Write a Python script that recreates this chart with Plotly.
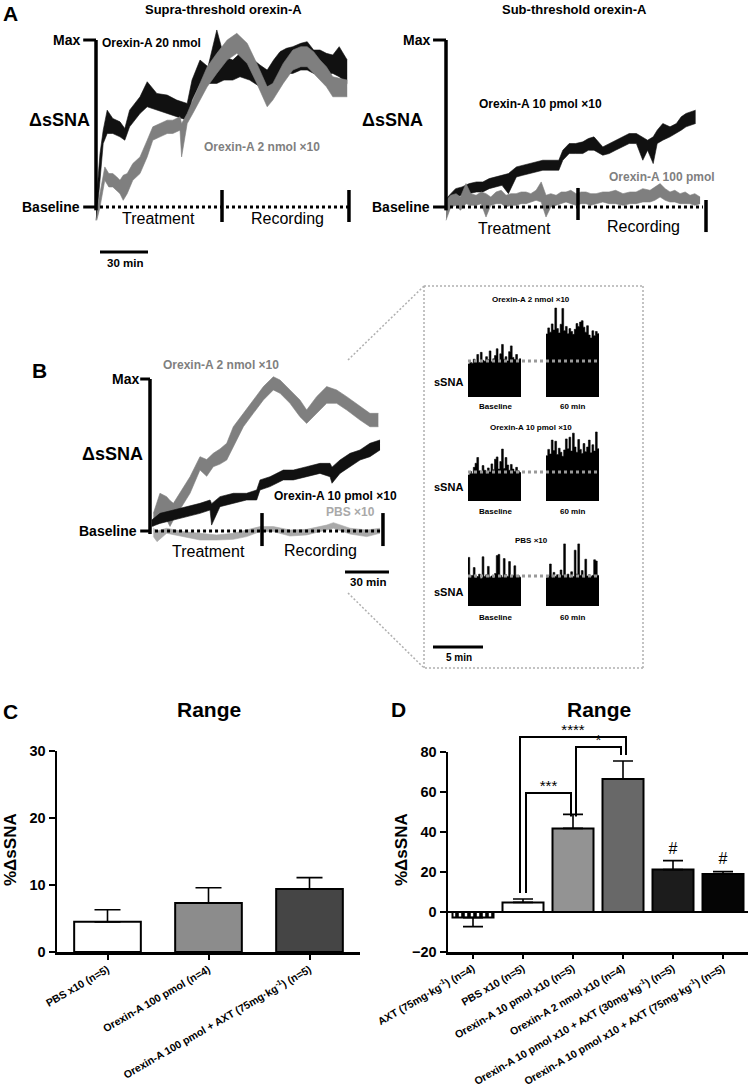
import plotly.graph_objects as go

W, H = 752, 1088
FONT = "Liberation Sans, Arial, Helvetica, sans-serif"
BLACK = "#111111"
GRAY = "#7f7f7f"
LGRAY = "#a9a9a9"

# ======================= DATA =======================
# Panel A left - supra-threshold (time, min; dSSNA as % of Max, low/high envelope of noisy trace)
a1_t_20nmol = [0, 1, 2.5, 4.5, 7, 10.5, 15, 18, 21, 27.5, 32, 38, 44.5, 50.5, 57, 60, 65, 70, 75.5, 80,
               85.5, 90, 96, 102.5, 107, 111, 115, 119, 123, 128, 132, 136, 140, 144, 148, 152, 157]
a1_hi_20nmol = [2, 14, 32, 46, 58, 53, 51, 47, 58, 66, 75, 68, 67, 64, 62, 76, 88, 84, 106, 90,
                88, 92, 90, 85, 82, 88, 93, 95, 96, 98, 99, 94, 94, 92, 91, 96, 88]
a1_lo_20nmol = [-8, 0, 16, 38, 44, 44, 42, 40, 48, 56, 60, 58, 56, 54, 52, 64, 74, 74, 74, 76,
                76, 78, 76, 72, 72, 74, 78, 80, 80, 82, 82, 80, 82, 80, 80, 78, 74]
a1_t_2nmol = [0.5, 2.5, 5.5, 8, 10.5, 13, 15, 17, 19.5, 23, 27.5, 32, 35.5, 40, 44.5, 48, 52.5, 53.5, 57, 60.5,
              65, 69.5, 75.5, 82, 88, 94.5, 100.5, 104, 107, 110.5, 117, 123, 128, 132, 136, 140, 144, 148, 152, 157]
a1_hi_2nmol = [-2, 8, 24, 20, 20, 18, 16, 19, 20, 26, 30, 40, 48, 50, 52, 52, 54, 50, 56, 64,
               74, 84, 92, 100, 104, 98, 86, 78, 72, 74, 86, 94, 96, 96, 93, 88, 84, 78, 77, 76]
a1_lo_2nmol = [-8, 0, 16, 12, 12, 10, 8, 4, 8, 16, 20, 30, 40, 42, 44, 44, 46, 30, 50, 56,
               64, 72, 80, 88, 92, 86, 74, 66, 60, 64, 74, 82, 84, 84, 80, 76, 72, 66, 66, 66]

# Panel A right - sub-threshold
a2_t_10pmol = [0, 1.2, 3, 6, 10, 14.5, 19, 23, 27, 31, 35, 39, 44, 48, 52, 56, 60.5, 65, 70.5, 73,
               77, 81, 85.5, 89, 92.5, 98, 102, 106, 110, 114.5, 119, 123, 126, 129.5, 132, 135.5, 140, 144, 147, 150,
               153, 156]
a2_hi_10pmol = [4, 6, 8, 11, 12, 14, 15, 15, 17, 18, 19, 20, 24, 25, 26, 27, 28, 28, 28, 34,
                38, 38, 39, 41, 42, 36, 38, 40, 42, 44, 44, 42, 40, 42, 46, 50, 48, 50, 54, 56,
                57, 58]
a2_lo_10pmol = [-2, 2, 4, 6, 7, 8, 9, 9, 11, 12, 13, 8, 18, 19, 20, 21, 22, 22, 22, 28,
                32, 32, 32, 34, 34, 31, 32, 34, 36, 38, 38, 28, 34, 26, 38, 40, 42, 44, 46, 48,
                49, 50]
a2_t_100pmol = [0, 3, 6.3, 9, 12.5, 15.5, 18.8, 22, 25, 28, 31.3, 34.5, 37.5, 40.5, 43.8, 47, 50, 53, 56.3, 59.5,
                62.5, 65.5, 68.8, 72, 75, 78, 81.3, 84.5, 87.5, 90.5, 93.8, 98, 101.9, 106, 110.6, 115, 118.8, 123, 127.5, 130.5,
                133.8, 137, 140, 143, 146.3, 149.5, 152.5, 155.5, 158.8]
a2_hi_100pmol = [4, 7, 8, 6, 14, 8, 7, 9, 8, 6, 9, 10, 7, 8, 8, 9, 9, 8, 10, 15,
                 7, 8, 7, 9, 9, 10, 8, 9, 9, 8, 8, 9, 9, 10, 8, 9, 9, 11, 10, 12,
                 14, 11, 9, 10, 8, 9, 7, 8, 6]
a2_lo_100pmol = [-8, 0, 1, -2, 2, 1, 1, 2, -6, 1, 2, 2, 0, 1, 1, 2, 2, 3, 4, 3,
                 -6, 0, 1, 2, 3, 2, 1, 2, 2, 1, 2, 3, 2, 2, 1, 2, 2, 3, 3, 4,
                 6, 4, 3, 3, 2, 2, 2, 1, 2]

# Panel B
b_t_2nmol = [2.4, 7.1, 11.9, 14.3, 16.7, 21.4, 28.6, 35.7, 40.5, 45.2, 50, 54.8, 59.5, 66.7, 73.8, 81, 88.1, 92.9, 100, 107.1,
             111.9, 119, 126.2, 133.3, 140.5, 150, 157.1, 163.1]
b_hi_2nmol = [11.6, 24.8, 22.6, 20, 18.2, 24.8, 35.7, 48.9, 47, 51.1, 54, 57.7, 68.6, 77.4, 86.2, 95, 101.5, 99.3, 92.8, 86.2,
              79.6, 88.4, 95, 92.8, 88.4, 81.8, 77.4, 77.4]
b_lo_2nmol = [2.9, 11.6, 7.2, 3, 7.2, 13.8, 24.8, 40.1, 36, 42.3, 44, 46.7, 55.5, 68.6, 77.4, 86.2, 92.8, 90.6, 84, 75.2,
              70.8, 77.4, 84, 84, 79.6, 73, 68.6, 68.6]
b_t_10pmol = [1.2, 7.1, 16.7, 26.2, 35.7, 42.9, 44, 50, 59.5, 69, 76.2, 78.6, 85.7, 95.2, 102.4, 111.9, 121.4, 128.6, 130, 135.7,
              142.9, 150, 157.1, 164.3]
b_hi_10pmol = [7.2, 11.6, 13.8, 16, 18.2, 20.4, 18, 22.6, 24.8, 24.8, 27, 33.6, 35.7, 40.1, 40.1, 42.3, 44.5, 44.5, 42, 46.7,
               51.1, 53.3, 57.7, 59.9]
b_lo_10pmol = [2.9, 5, 7.2, 9.4, 11.6, 13.8, 3.9, 16, 18.2, 20.4, 20.4, 27, 29.2, 33.6, 33.6, 35.7, 37.9, 35.7, 31.4, 37.9,
               42.3, 46.7, 48.9, 53.3]
b_t_pbs = [2.4, 5, 11.9, 23.8, 35.7, 47.6, 59.5, 69, 78.6, 88.1, 100, 111.9, 126.2, 131, 142.9, 154.8, 164.3]
b_hi_pbs = [1.8, 0, 1.8, -0.4, -1.5, -2.6, -1.5, 0.7, 2.9, 2.9, 0.7, 1.1, 3.9, 5.5, 1.8, 0.7, 1.8]
b_lo_pbs = [-3.7, -7, -1.5, -3.7, -5.9, -5.9, -5.5, -3.7, -0.4, -0.4, -3.3, -2.6, 0.7, 1.8, -2, -3.7, -1.5]

# Inset: sSNA burst envelopes (baseline level = 10)
inset_titles = ["Orexin-A 2 nmol ×10", "Orexin-A 10 pmol ×10", "PBS ×10"]
burst_baseline = [
    [9.2, 9.6, 9.4, 10.5, 9.8, 11.8, 9.6, 12.4, 10.2, 9.9, 11.2, 10.4, 12.8, 9.8, 10.6, 11.5, 13.4, 10.2, 12.0, 14.6,
     10.5, 11.2, 10.0, 12.6, 14.2, 11.0, 10.4, 11.8, 10.2, 10.6],
    [9.0, 10.2, 9.4, 11.6, 13.0, 15.0, 10.4, 9.8, 12.2, 10.6, 9.6, 11.4, 10.0, 12.8, 10.8, 14.4, 15.2, 11.0, 13.6, 17.9,
     11.2, 15.0, 12.4, 10.6, 12.6, 11.0, 10.2, 11.6, 10.4, 9.8],
    [16.2, 9.6, 10.2, 12.8, 9.4, 9.8, 10.6, 9.2, 16.4, 9.8, 10.4, 13.2, 9.6, 10.0, 9.4, 10.8, 16.8, 17.2, 10.2, 9.6,
     15.8, 10.4, 9.8, 14.8, 9.6, 10.2, 13.4, 9.8, 10.2, 9.6],
]
burst_60min = [
    [17.5, 19.2, 18.0, 20.3, 18.6, 24.7, 19.0, 17.8, 20.2, 24.6, 18.4, 19.6, 17.6, 19.0, 18.2, 17.4, 18.8, 20.4, 19.6, 20.8,
     21.2, 19.4, 18.0, 19.8, 17.2, 16.4, 18.4, 17.0, 18.2, 17.6],
    [15.6, 17.8, 16.2, 21.0, 17.4, 20.6, 16.0, 18.2, 16.8, 15.4, 17.6, 21.4, 18.0, 22.0, 17.2, 23.4, 18.6, 16.8, 21.2, 17.8,
     16.4, 19.8, 17.0, 18.6, 21.0, 16.6, 19.4, 17.2, 23.8, 18.0],
    [9.4, 10.0, 14.0, 9.6, 11.2, 9.8, 10.4, 9.6, 12.0, 10.2, 20.7, 9.8, 10.6, 9.4, 11.4, 9.8, 18.6, 10.6, 20.7, 10.2,
     11.8, 9.6, 15.6, 10.0, 10.4, 9.8, 10.2, 15.4, 15.0, 10.2],
]

# Panel C
c_cats = ["PBS x10 (n=5)", "Orexin-A 100 pmol (n=4)", "Orexin-A 100 pmol + AXT (75mg·kg<sup>-1</sup>) (n=5)"]
c_vals = [4.5, 7.3, 9.4]
c_sem = [1.8, 2.3, 1.7]
c_colors = ["#ffffff", "#8c8c8c", "#454545"]

# Panel D
d_cats = ["AXT (75mg·kg<sup>-1</sup>) (n=4)", "PBS x10 (n=5)", "Orexin-A 10 pmol x10 (n=5)",
          "Orexin-A 2 nmol x10 (n=4)", "Orexin-A 10 pmol x10 + AXT (30mg·kg<sup>-1</sup>) (n=5)",
          "Orexin-A 10 pmol x10 + AXT (75mg·kg<sup>-1</sup>) (n=5)"]
d_vals = [-2.8, 4.8, 41.8, 66.5, 21.2, 19.0]
d_sem_up = [0, 1.7, 7.0, 9.0, 4.5, 1.2]
d_sem_down = [4.5, 0, 0, 0, 0, 0]
d_colors = ["#000000", "#ffffff", "#939393", "#686868", "#1c1c1c", "#050505"]
# significance: (left idx, right idx, label, bracket top, left leg bottom, right leg bottom)
d_sig = [(1, 3, "****", 87.5, 9.5, 78.5), (2, 3, "*", 82.5, 47.7, 78.5), (1, 2, "***", 59.5, 9.5, 47.7)]
d_hash_idx = [4, 5]
d_hash_y = [31, 26]

# ======================= FIGURE =======================
fig = go.Figure()
layout_axes = {}
shapes = []
annotations = []


def lin_axes(n, box, origin, sx, sy):
    x0, y0, x1, y1 = box
    ox, oy = origin
    sfx = "" if n == 1 else str(n)
    layout_axes["xaxis" + sfx] = dict(domain=[x0 / W, x1 / W], range=[(x0 - ox) / sx, (x1 - ox) / sx],
                                      visible=False, fixedrange=True, anchor="y" + sfx, automargin=False)
    layout_axes["yaxis" + sfx] = dict(domain=[1 - y1 / H, 1 - y0 / H], range=[(oy - y1) / sy, (oy - y0) / sy],
                                      visible=False, fixedrange=True, anchor="x" + sfx, automargin=False)
    return sfx


def band(ax, t, lo, hi, color):
    fig.add_trace(go.Scatter(x=t, y=lo, mode="lines", line=dict(color=color, width=0.6),
                             xaxis="x" + ax, yaxis="y" + ax, showlegend=False, hoverinfo="skip"))
    fig.add_trace(go.Scatter(x=t, y=hi, mode="lines", line=dict(color=color, width=0.6), fill="tonexty",
                             fillcolor=color, xaxis="x" + ax, yaxis="y" + ax, showlegend=False, hoverinfo="skip"))


def seg(ax, x0, y0, x1, y1, width=3.5, color="black", dash=None):
    ln = dict(color=color, width=width)
    if dash:
        ln["dash"] = dash
    shapes.append(dict(type="line", xref="x" + ax, yref="y" + ax, x0=x0, y0=y0, x1=x1, y1=y1, line=ln))


def pseg(p0, p1, width=1.5, color="#b0b0b0", dash="2px,2px"):
    shapes.append(dict(type="line", xref="paper", yref="paper", x0=p0[0] / W, y0=1 - p0[1] / H,
                       x1=p1[0] / W, y1=1 - p1[1] / H, line=dict(color=color, width=width, dash=dash)))


def txt(s, x, y, size, color="black", bold=True, xanchor="center", yanchor="middle", angle=0):
    annotations.append(dict(text=("<b>%s</b>" % s) if bold else s, x=x / W, y=1 - y / H, xref="paper",
                            yref="paper", showarrow=False, xanchor=xanchor, yanchor=yanchor, textangle=angle,
                            font=dict(family=FONT, size=size, color=color)))


# ---------- Panel A left ----------
a = lin_axes(1, (78, 25, 356, 258), (96, 207), 1.6, 1.67)
band(a, a1_t_20nmol, a1_lo_20nmol, a1_hi_20nmol, BLACK)
band(a, a1_t_2nmol, a1_lo_2nmol, a1_hi_2nmol, GRAY)
seg(a, 0, -2, 0, 100)
seg(a, -8, 100, 0, 100, 3)
seg(a, -8, 0, 0, 0, 3)
seg(a, 2.5, 0, 158, 0, 3, "black", "dot")
seg(a, 78.75, -9, 78.75, 10.2)
seg(a, 158.1, -9, 158.1, 10.2)
seg(a, 2.5, -27, 32.5, -27, 3)

# ---------- Panel A right ----------
a2 = lin_axes(2, (425, 25, 712, 240), (446, 207), 1.6, 1.67)
band(a2, a2_t_10pmol, a2_lo_10pmol, a2_hi_10pmol, BLACK)
band(a2, a2_t_100pmol, a2_lo_100pmol, a2_hi_100pmol, GRAY)
seg(a2, 0, -2, 0, 100)
seg(a2, -8.1, 100, 0, 100, 3)
seg(a2, -8.1, 0, 0, 0, 3)
seg(a2, 2.5, 0, 160.6, 0, 3, "black", "dot")
seg(a2, 82.5, -7.8, 82.5, 11.4)
seg(a2, 162.5, -15, 162.5, 4.2)

# ---------- Panel B ----------
b = lin_axes(3, (130, 355, 395, 585), (150, 531), 1.4, 1.52)
band(b, b_t_pbs, b_lo_pbs, b_hi_pbs, LGRAY)
band(b, b_t_2nmol, b_lo_2nmol, b_hi_2nmol, GRAY)
band(b, b_t_10pmol, b_lo_10pmol, b_hi_10pmol, BLACK)
seg(b, 0, -2, 0, 100)
seg(b, -7, 100, 0, 100, 3)
seg(b, -7, 0, 0, 0, 3)
seg(b, 3.6, 0, 166.4, 0, 3, "black", "dot")
seg(b, 80, -9.9, 80, 11.8)
seg(b, 166.4, -9.9, 166.4, 11.8)
seg(b, 139.3, -27, 170.7, -27, 3)

# ---------- Inset ----------
row_boxes = [(440, 295, 610, 400), (440, 420, 610, 504), (425, 530, 610, 655)]
row_origin = [(468, 397), (468, 501), (468, 606)]
row_sy = [3.6, 2.9, 3.0]
BLOCK_W = 5.3
BLOCK_START = [0.0, 7.8]
for r in range(3):
    ax = lin_axes(4 + r, row_boxes[r], row_origin[r], 10.0, row_sy[r])
    for start, prof in zip(BLOCK_START, [burst_baseline[r], burst_60min[r]]):
        n = len(prof)
        xs = [start + i * BLOCK_W / n for i in range(n + 1)]
        ys = list(prof) + [prof[-1]]
        fig.add_trace(go.Scatter(x=xs, y=ys, mode="lines", line=dict(color="black", width=0.6, shape="hv"),
                                 fill="tozeroy", fillcolor="black", xaxis="x" + ax, yaxis="y" + ax,
                                 showlegend=False, hoverinfo="skip"))
    seg(ax, 0, 10, BLOCK_START[1] + BLOCK_W, 10, 3, "#9a9a9a", "dot")
    if r == 2:
        seg(ax, -3.5, -13.7, 1.5, -13.7, 3)

# inset frame and zoom lines
pseg((424, 286), (643, 286))
pseg((643, 286), (643, 668))
pseg((643, 668), (424, 668))
pseg((424, 668), (424, 286))
pseg((348, 360), (424, 286))
pseg((348, 593), (423, 667))

# ---------- Panel C ----------
fig.add_trace(go.Bar(x=c_cats, y=c_vals, width=0.66,
                     marker=dict(color=c_colors, line=dict(color="black", width=2)),
                     error_y=dict(type="data", array=c_sem, arrayminus=[0] * len(c_sem), symmetric=False,
                                  color="black", thickness=1.6, width=13),
                     xaxis="x7", yaxis="y7", showlegend=False, hoverinfo="skip"))

axis_common = dict(showline=True, linecolor="black", linewidth=2.5, ticks="outside", tickcolor="black",
                   showgrid=False, fixedrange=True, automargin=False)
xtickfont = dict(family=FONT, size=10.6, color="black", weight="bold")
ytickfont = dict(family=FONT, size=14.5, color="black", weight="bold")
layout_axes["xaxis7"] = dict(domain=[57 / W, 360 / W], anchor="y7", type="category", range=[-0.5, 2.5],
                             ticklen=5, tickwidth=2, tickangle=-30, tickfont=xtickfont, zeroline=False,
                             **axis_common)
layout_axes["yaxis7"] = dict(domain=[1 - 952 / H, 1 - 751 / H], anchor="x7", range=[0, 30],
                             tickvals=[0, 10, 20, 30], ticklen=6, tickwidth=2, tickfont=ytickfont,
                             zeroline=False, **axis_common)

# ---------- Panel D ----------
d_pattern = ["|", "", "", "", "", ""]
fig.add_trace(go.Bar(x=d_cats, y=d_vals, width=0.82,
                     marker=dict(color=d_colors, line=dict(color="black", width=2),
                                 pattern=dict(shape=d_pattern, fgcolor="white", bgcolor=d_colors,
                                              size=6, solidity=0.6)),
                     error_y=dict(type="data", array=d_sem_up, arrayminus=d_sem_down, symmetric=False,
                                  color="black", thickness=1.6, width=10),
                     xaxis="x8", yaxis="y8", showlegend=False, hoverinfo="skip"))
layout_axes["xaxis8"] = dict(domain=[448 / W, 748 / W], anchor="y8", type="category", range=[-0.5, 5.5],
                             ticklen=4, tickwidth=2, tickangle=-30, tickfont=xtickfont, zeroline=False,
                             **axis_common)
layout_axes["yaxis8"] = dict(domain=[1 - 952 / H, 1 - 752 / H], anchor="x8", range=[-20, 80],
                             tickvals=[-20, 0, 20, 40, 60, 80], ticklen=6, tickwidth=2, tickfont=ytickfont,
                             zeroline=True, zerolinecolor="black", zerolinewidth=2.5, **axis_common)
# overlay axis (same scale as D, taller) for significance brackets
layout_axes["xaxis9"] = dict(domain=[448 / W, 748 / W], range=[-0.5, 5.5], visible=False, fixedrange=True,
                             anchor="y9", automargin=False)
layout_axes["yaxis9"] = dict(domain=[1 - 952 / H, 1 - 700 / H], range=[-20, -20 + 252 / 2.0], visible=False,
                             fixedrange=True, anchor="x9", automargin=False)
for (i, j, lab, top, lb, rb) in d_sig:
    xl, xr = i - 0.06 if lab == "****" else i + 0.06, j + 0.06 if lab == "****" else j - 0.04
    fig.add_trace(go.Scatter(x=[xl, xl, xr, xr], y=[lb, top, top, rb], mode="lines",
                             line=dict(color="black", width=2), xaxis="x9", yaxis="y9",
                             showlegend=False, hoverinfo="skip"))
    fig.add_trace(go.Scatter(x=[(xl + xr) / 2], y=[top + 3.0], mode="text", text=[lab],
                             textfont=dict(family=FONT, size=15, color="black"), textposition="middle center",
                             xaxis="x9", yaxis="y9", showlegend=False, hoverinfo="skip"))
fig.add_trace(go.Scatter(x=d_hash_idx, y=d_hash_y, mode="text", text=["#"] * len(d_hash_idx),
                         textfont=dict(family=FONT, size=16, color="black"), textposition="middle center",
                         xaxis="x9", yaxis="y9", showlegend=False, hoverinfo="skip"))

# ---------- Text ----------
txt("A", 10, 14, 21, xanchor="center")
txt("Supra-threshold orexin-A", 223, 9, 13)
txt("Sub-threshold orexin-A", 574, 9, 13)
# A left
txt("Max", 82, 40, 14, xanchor="right")
txt("Baseline", 82, 207, 14, xanchor="right")
txt("ΔsSNA", 59, 120, 18)
txt("Orexin-A 20 nmol", 100, 43, 12, xanchor="left")
txt("Orexin-A 2 nmol ×10", 202, 147, 12, color=GRAY, xanchor="left")
txt("Treatment", 158, 218, 16, bold=False)
txt("Recording", 287, 218, 16, bold=False)
txt("30 min", 125, 263, 11.5)
# A right
txt("Max", 432, 40, 14, xanchor="right")
txt("Baseline", 432, 207, 14, xanchor="right")
txt("ΔsSNA", 392, 120, 18)
txt("Orexin-A 10 pmol ×10", 540, 104, 12)
txt("Orexin-A 100 pmol", 662, 177, 12, color=GRAY)
txt("Treatment", 514, 228, 16, bold=False)
txt("Recording", 643, 226, 16, bold=False)
# B
txt("B", 39, 370, 21)
txt("Max", 141, 379, 14, xanchor="right")
txt("Baseline", 139, 531, 14, xanchor="right")
txt("ΔsSNA", 112, 454, 18)
txt("Orexin-A 2 nmol ×10", 221, 365, 12, color=GRAY)
txt("Orexin-A 10 pmol ×10", 335, 496, 12)
txt("PBS ×10", 350, 512, 12, color=LGRAY)
txt("Treatment", 208, 551, 16, bold=False)
txt("Recording", 320, 550, 16, bold=False)
txt("30 min", 368, 582, 11.5)
# inset
inset_title_y = [299, 428, 540]
inset_ssna_y = [382, 487, 592]
inset_lab_y = [407, 511, 617]
for r in range(3):
    txt(inset_titles[r], 531, inset_title_y[r], 8)
    txt("sSNA", 448, inset_ssna_y[r], 11)
    txt("Baseline", 495, inset_lab_y[r], 8)
    txt("60 min", 572, inset_lab_y[r], 8)
txt("5 min", 459, 657, 10)
# C and D
txt("C", 10, 711, 21)
txt("Range", 209, 709, 21)
txt("%ΔsSNA", 10, 850, 17, angle=-90)
txt("D", 398, 709, 21)
txt("Range", 599, 709, 21)
txt("%ΔsSNA", 401, 850, 17, angle=-90)

fig.update_layout(template="none", width=W, height=H, autosize=False, margin=dict(l=0, r=0, t=0, b=0, pad=0),
                  paper_bgcolor="white", plot_bgcolor="rgba(0,0,0,0)", showlegend=False,
                  shapes=shapes, annotations=annotations, bargap=0,
                  font=dict(family=FONT, color="black"), **layout_axes)

fig.write_html("out.html", config={"displayModeBar": False, "staticPlot": True},
               post_script="document.body.style.margin='0';document.body.style.overflow='hidden';")
